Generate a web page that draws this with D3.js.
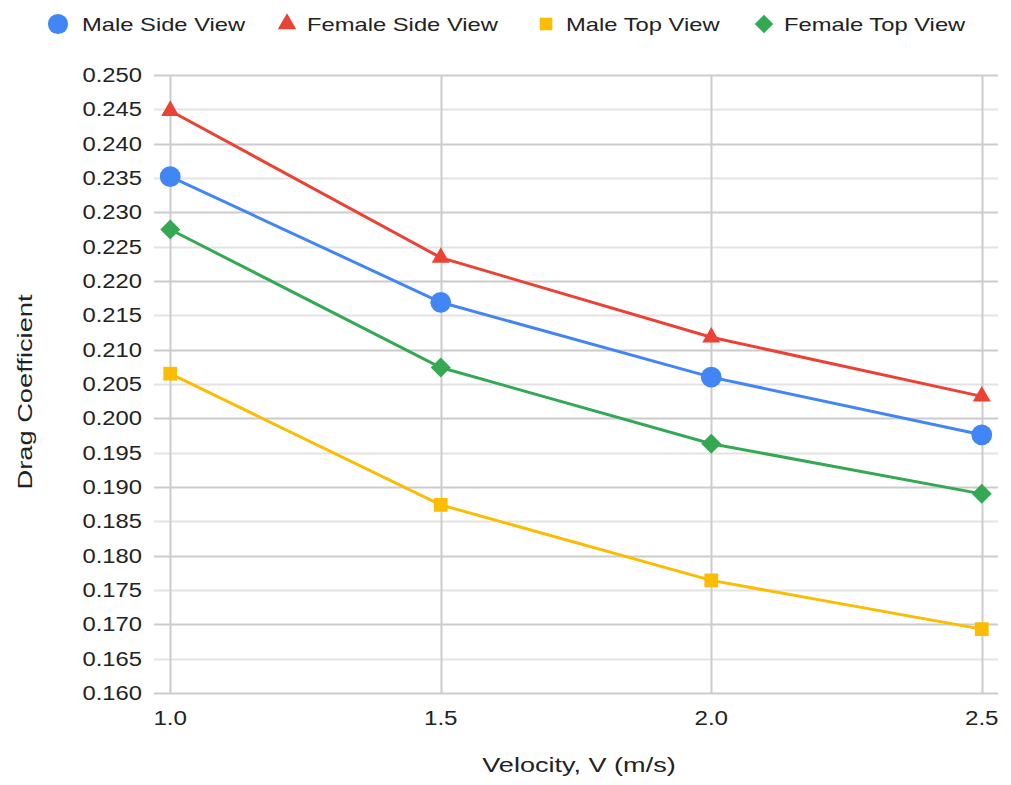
<!DOCTYPE html>
<html>
<head>
<meta charset="utf-8">
<script src="https://cdn.jsdelivr.net/npm/d3@7"></script>
<style>
  body { margin: 0; background: #fff; }
  text { font-family: "Liberation Sans", Arial, sans-serif; fill: #222; }
</style>
</head>
<body>
<div id="chart"></div>
<script>
// data
var velocities = [1.0, 1.5, 2.0, 2.5];
var seriesNames = ["Male Side View", "Female Side View", "Male Top View", "Female Top View"];
var maleSide = [0.2352, 0.2169, 0.2060, 0.1976];
var femaleSide = [0.2448, 0.2234, 0.2118, 0.2032];
var maleTop = [0.2065, 0.1874, 0.1764, 0.1693];
var femaleTop = [0.2275, 0.2074, 0.1963, 0.1890];
var yTicks = d3.range(0.160, 0.2501, 0.005);
var xTicks = [1.0, 1.5, 2.0, 2.5];

var width = 1011, height = 785;
var margin = { left: 154, right: 13, top: 75, bottom: 92 };
var stretch = 1.25; // the text in the picture is wider than Arial

var svg = d3.select("#chart").append("svg")
    .attr("width", width)
    .attr("height", height);

var x = d3.scaleLinear().domain([0.97, 2.53]).range([margin.left, width - margin.right]);
var y = d3.scaleLinear().domain([0.160, 0.250]).range([height - margin.bottom, margin.top]);

var colors = ["#4285f4", "#ea4335", "#fbbc04", "#34a853"];
var shapes = [d3.symbolCircle, d3.symbolTriangle, d3.symbolSquare, d3.symbolSquare];
var sizes = [340, 140, 190, 200];
var rotations = [0, 0, 0, 45];
var allSeries = [maleSide, femaleSide, maleTop, femaleTop];

// horizontal gridlines
svg.append("g").selectAll("line")
    .data(yTicks)
  .enter().append("line")
    .attr("x1", margin.left)
    .attr("x2", width - margin.right)
    .attr("y1", function(d) { return Math.round(y(d)) + 0.5; })
    .attr("y2", function(d) { return Math.round(y(d)) + 0.5; })
    .attr("stroke", function(d, i) { return i % 2 == 0 ? "#cccccc" : "#e3e3e3"; })
    .attr("stroke-width", 2);

// vertical gridlines
svg.append("g").selectAll("line")
    .data(xTicks)
  .enter().append("line")
    .attr("x1", function(d) { return Math.round(x(d)) + 0.5; })
    .attr("x2", function(d) { return Math.round(x(d)) + 0.5; })
    .attr("y1", margin.top)
    .attr("y2", height - margin.bottom)
    .attr("stroke", "#cccccc")
    .attr("stroke-width", 2);

// y tick labels
svg.append("g").selectAll("text")
    .data(yTicks)
  .enter().append("text")
    .attr("transform", function(d) { return "translate(142," + y(d) + ") scale(1.22,1)"; })
    .attr("dy", "0.36em")
    .attr("text-anchor", "end")
    .style("font-size", "19.5px")
    .text(function(d) { return d3.format(".3f")(d); });

// x tick labels
svg.append("g").selectAll("text")
    .data(xTicks)
  .enter().append("text")
    .attr("transform", function(d) { return "translate(" + x(d) + ",725) scale(1.18,1)"; })
    .attr("text-anchor", "middle")
    .style("font-size", "20.5px")
    .text(function(d) { return d3.format(".1f")(d); });

// axis titles
svg.append("text")
    .attr("transform", "translate(579,772) scale(1.32,1)")
    .attr("text-anchor", "middle")
    .style("font-size", "20.5px")
    .text("Velocity, V (m/s)");

svg.append("text")
    .attr("transform", "translate(32,392) rotate(-90) scale(1.3,1)")
    .attr("text-anchor", "middle")
    .style("font-size", "21px")
    .text("Drag Coefficient");

var line = d3.line()
    .x(function(d, i) { return x(velocities[i]); })
    .y(function(d) { return y(d); });

// lines
allSeries.forEach(function(vals, s) {
  svg.append("path")
      .datum(vals)
      .attr("d", line)
      .attr("fill", "none")
      .attr("stroke", colors[s])
      .attr("stroke-width", 3);
});

// markers
allSeries.forEach(function(vals, s) {
  svg.append("g").selectAll("path")
      .data(vals)
    .enter().append("path")
      .attr("transform", function(d, i) {
        return "translate(" + x(velocities[i]) + "," + y(d) + ") rotate(" + rotations[s] + ")";
      })
      .attr("d", d3.symbol().type(shapes[s]).size(sizes[s]))
      .attr("fill", colors[s]);
});

// legend
var legendX = [58, 287, 546, 764];
var legendSizes = [320, 150, 160, 170];
var legend = svg.append("g").selectAll("g")
    .data(seriesNames)
  .enter().append("g")
    .attr("transform", function(d, i) { return "translate(" + legendX[i] + ",24)"; });

legend.append("path")
    .attr("transform", function(d, i) { return "rotate(" + rotations[i] + ")"; })
    .attr("d", function(d, i) { return d3.symbol().type(shapes[i]).size(legendSizes[i])(); })
    .attr("fill", function(d, i) { return colors[i]; });

legend.append("text")
    .attr("transform", function(d, i) { return "translate(" + (i == 0 ? 24 : 20) + ",0) scale(" + stretch + ",1)"; })
    .attr("dy", "0.36em")
    .style("font-size", "19px")
    .text(function(d) { return d; });
</script>
</body>
</html>
